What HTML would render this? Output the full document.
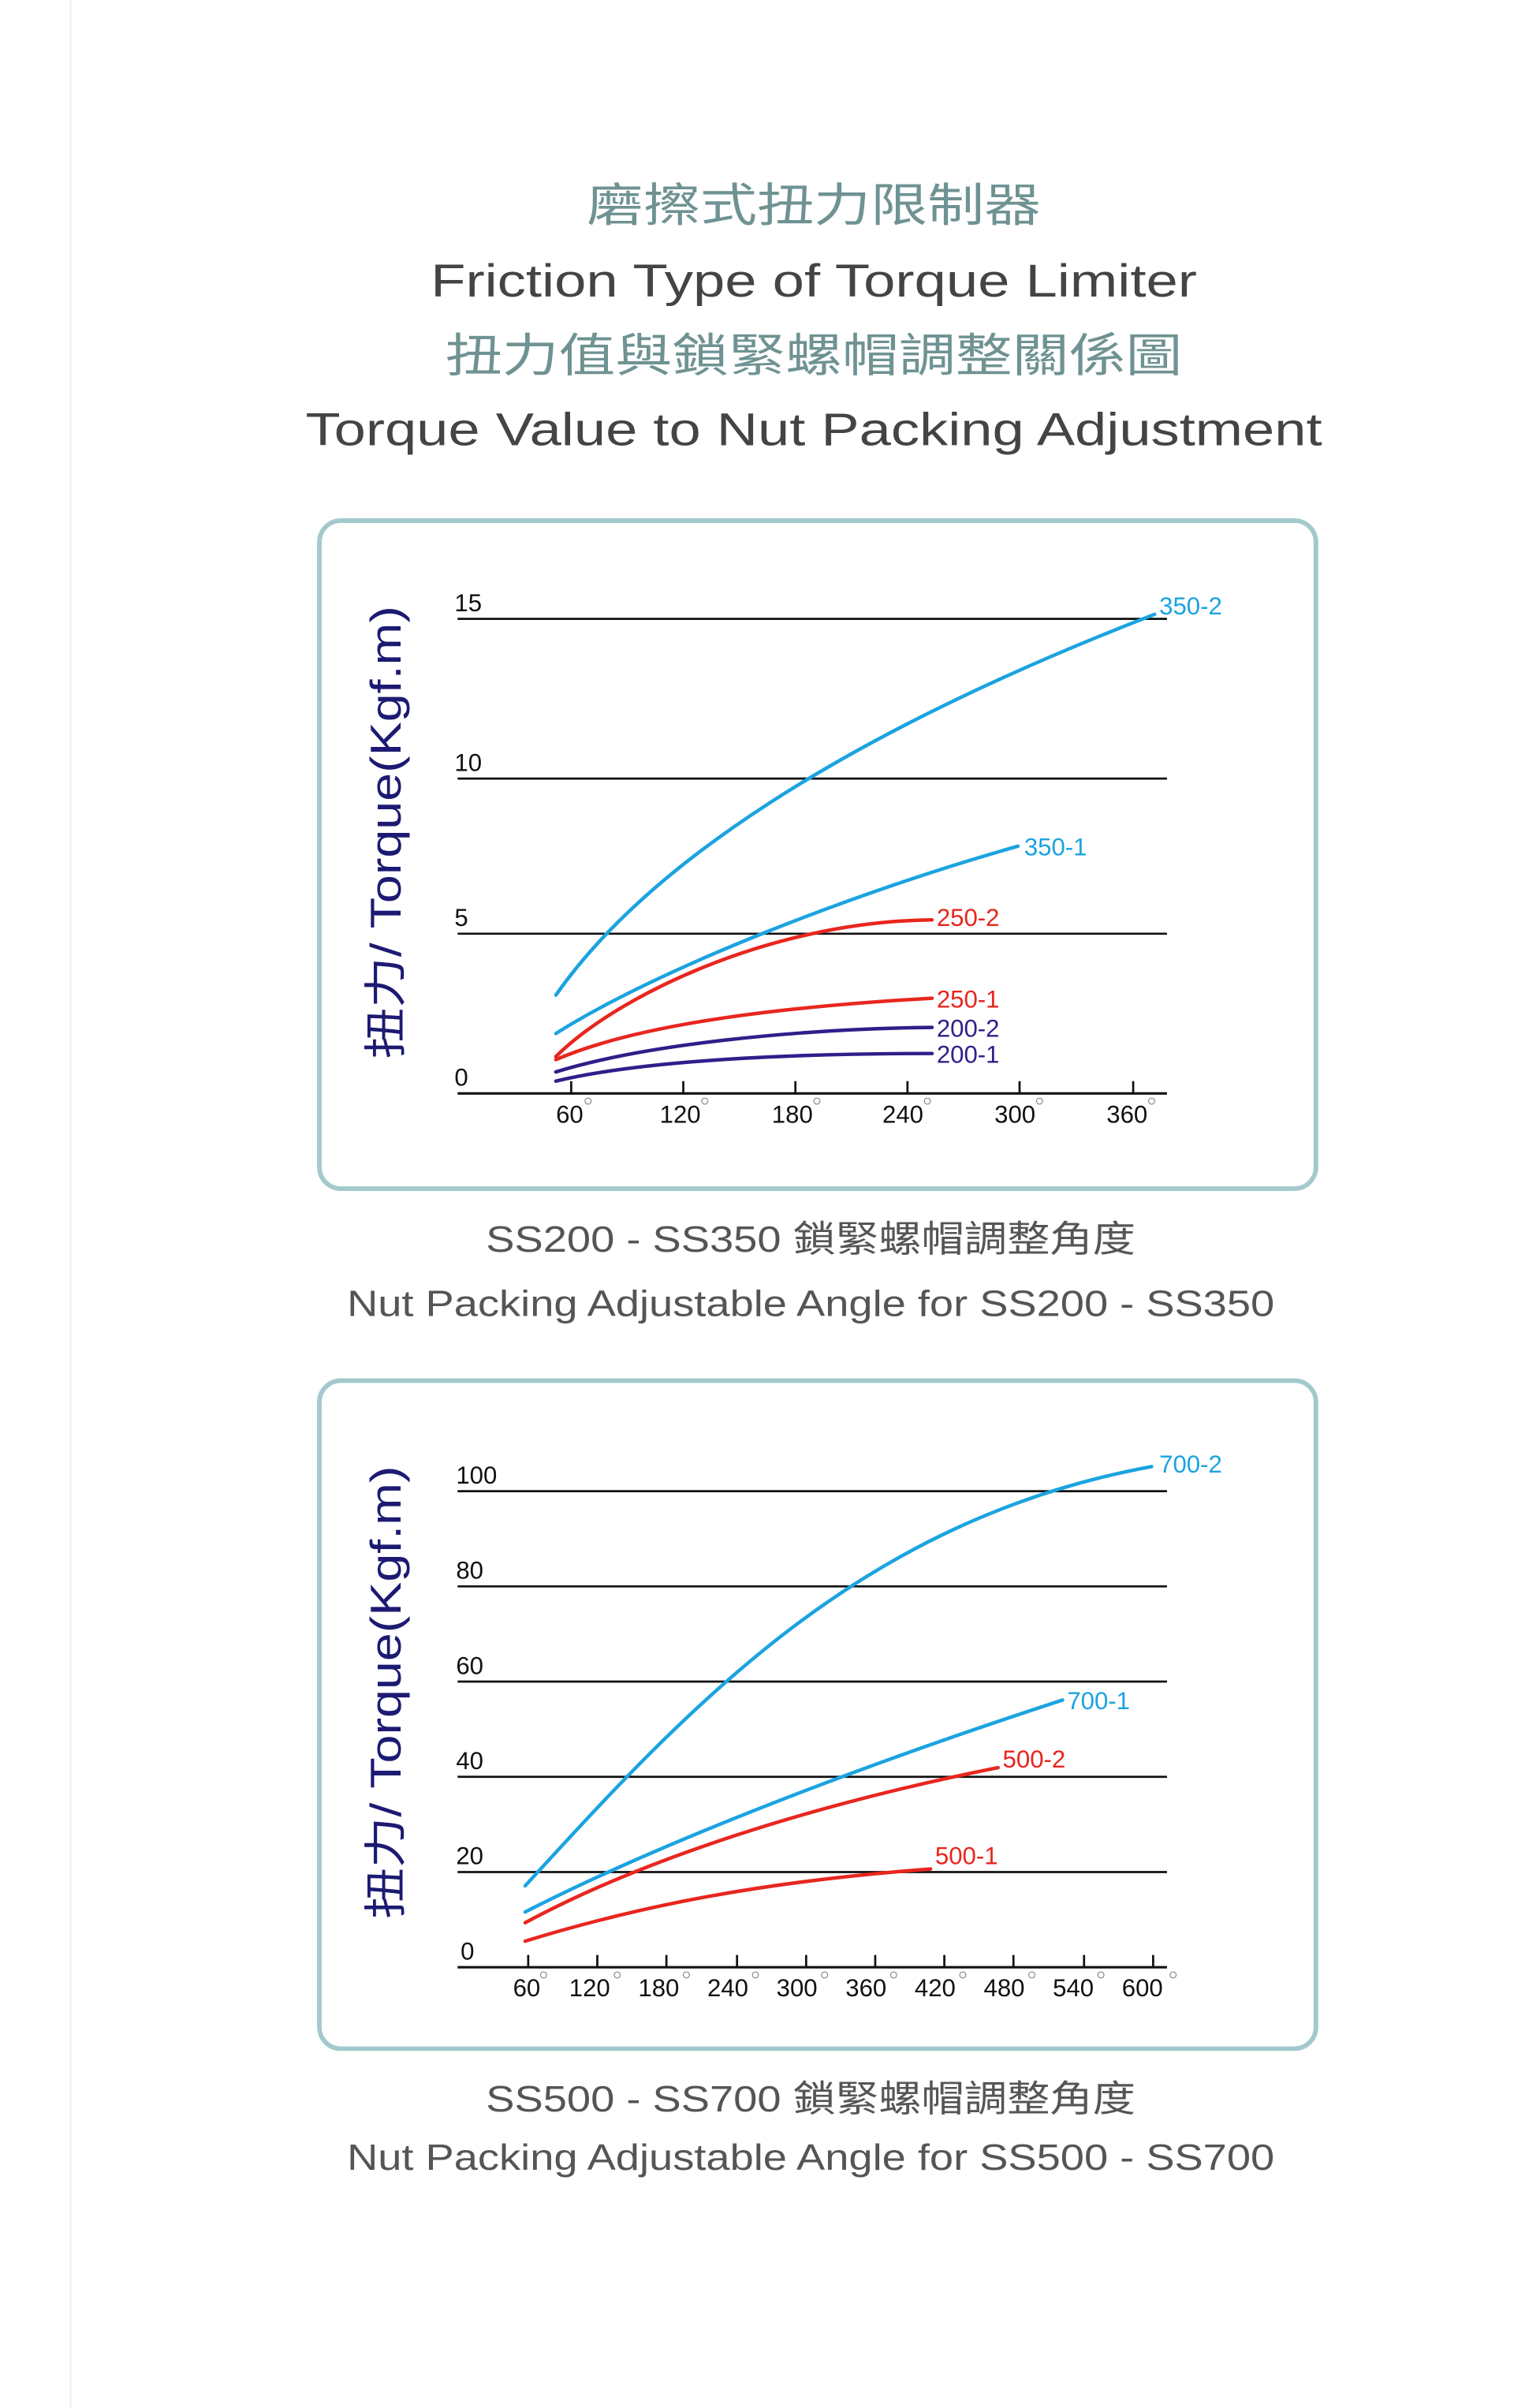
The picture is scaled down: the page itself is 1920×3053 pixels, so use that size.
<!DOCTYPE html>
<html><head><meta charset="utf-8"><style>
html,body{margin:0;padding:0;background:#fff;}
svg{display:block;}
text{font-family:"Liberation Sans","Noto Sans CJK TC",sans-serif;}
</style></head><body>
<svg width="1920" height="3053" viewBox="0 0 986 1568" preserveAspectRatio="none" xmlns="http://www.w3.org/2000/svg">
<rect width="986" height="1568" fill="#fff"/>
<line x1="46" y1="0" x2="46" y2="1568" stroke="#e6eeee" stroke-width="1"/>

<g text-anchor="middle">
<text x="530" y="144" font-size="30" fill="#6f9292" textLength="296" lengthAdjust="spacingAndGlyphs">磨擦式扭力限制器</text>
<text x="530" y="193" font-size="30" fill="#444" textLength="499" lengthAdjust="spacingAndGlyphs">Friction Type of Torque Limiter</text>
<text x="530" y="242" font-size="30" fill="#6f9292" textLength="480" lengthAdjust="spacingAndGlyphs">扭力值與鎖緊螺帽調整關係圖</text>
<text x="530" y="290" font-size="30" fill="#444" textLength="662" lengthAdjust="spacingAndGlyphs">Torque Value to Nut Packing Adjustment</text>
</g>

<!-- Chart 1 -->
<rect x="208" y="339" width="649" height="435" rx="14" fill="none" stroke="#a3c9cc" stroke-width="3"/>
<g stroke="#111" stroke-width="1.4">
<line x1="298" y1="403" x2="760" y2="403"/>
<line x1="298" y1="507" x2="760" y2="507"/>
<line x1="298" y1="608" x2="760" y2="608"/>
<line x1="298" y1="712" x2="760" y2="712" stroke-width="1.6"/>
<line x1="372" y1="712" x2="372" y2="704"/><line x1="445" y1="712" x2="445" y2="704"/><line x1="518" y1="712" x2="518" y2="704"/><line x1="591" y1="712" x2="591" y2="704"/><line x1="664" y1="712" x2="664" y2="704"/><line x1="738" y1="712" x2="738" y2="704"/>
</g>
<g font-size="16" fill="#111">
<text x="296" y="398">15</text><text x="296" y="502">10</text><text x="296" y="603">5</text><text x="296" y="707">0</text>
</g>
<g font-size="16" fill="#111" text-anchor="middle">
<text x="371" y="731">60</text><text x="443" y="731">120</text><text x="516" y="731">180</text><text x="588" y="731">240</text><text x="661" y="731">300</text><text x="734" y="731">360</text>
</g>
<g fill="none" stroke="#888" stroke-width="0.6">
<circle cx="383" cy="717" r="2"/><circle cx="459" cy="717" r="2"/><circle cx="532" cy="717" r="2"/><circle cx="604" cy="717" r="2"/><circle cx="677" cy="717" r="2"/><circle cx="750" cy="717" r="2"/>
</g>
<text transform="translate(261,542) rotate(-90)" text-anchor="middle" font-size="28" fill="#1c1a72" textLength="295" lengthAdjust="spacingAndGlyphs">扭力/ Torque(Kgf.m)</text>
<g fill="none" stroke-width="2.3" stroke-linecap="round">
<path d="M362,648 C420,565 545,480 752,400" stroke="#1ba3e0"/>
<path d="M362,673 C430,630 560,580 663,551" stroke="#1ba3e0"/>
<path d="M362,688 C400,650 500,600 607,599" stroke="#e8261e"/>
<path d="M362,690 C420,665 520,655 607,650" stroke="#e8261e"/>
<path d="M362,698 C420,680 520,670 607,669" stroke="#2e1f8a"/>
<path d="M362,704 C420,690 520,686 607,686" stroke="#2e1f8a"/>
</g>
<g font-size="16">
<text x="755" y="400" fill="#1ba3e0">350-2</text>
<text x="667" y="557" fill="#1ba3e0">350-1</text>
<text x="610" y="603" fill="#e8261e">250-2</text>
<text x="610" y="656" fill="#e8261e">250-1</text>
<text x="610" y="675" fill="#2e1f8a">200-2</text>
<text x="610" y="692" fill="#2e1f8a">200-1</text>
</g>
<g text-anchor="middle" fill="#555" font-size="24">
<text x="528" y="815" textLength="423" lengthAdjust="spacingAndGlyphs">SS200 - SS350 鎖緊螺帽調整角度</text>
<text x="528" y="857" textLength="604" lengthAdjust="spacingAndGlyphs">Nut Packing Adjustable Angle for SS200 - SS350</text>
</g>

<!-- Chart 2 -->
<rect x="208" y="899" width="649" height="435" rx="14" fill="none" stroke="#a3c9cc" stroke-width="3"/>
<g stroke="#111" stroke-width="1.4">
<line x1="298" y1="971" x2="760" y2="971"/>
<line x1="298" y1="1033" x2="760" y2="1033"/>
<line x1="298" y1="1095" x2="760" y2="1095"/>
<line x1="298" y1="1157" x2="760" y2="1157"/>
<line x1="298" y1="1219" x2="760" y2="1219"/>
<line x1="298" y1="1281" x2="760" y2="1281" stroke-width="1.6"/>
<g>
<line x1="344" y1="1281" x2="344" y2="1273"/><line x1="389" y1="1281" x2="389" y2="1273"/><line x1="434" y1="1281" x2="434" y2="1273"/><line x1="480" y1="1281" x2="480" y2="1273"/><line x1="525" y1="1281" x2="525" y2="1273"/><line x1="570" y1="1281" x2="570" y2="1273"/><line x1="615" y1="1281" x2="615" y2="1273"/><line x1="660" y1="1281" x2="660" y2="1273"/><line x1="706" y1="1281" x2="706" y2="1273"/><line x1="751" y1="1281" x2="751" y2="1273"/>
</g>
</g>
<g font-size="16" fill="#111">
<text x="297" y="966">100</text><text x="297" y="1028">80</text><text x="297" y="1090">60</text><text x="297" y="1152">40</text><text x="297" y="1214">20</text><text x="300" y="1276">0</text>
</g>
<g font-size="16" fill="#111" text-anchor="middle">
<text x="343" y="1300">60</text><text x="384" y="1300">120</text><text x="429" y="1300">180</text><text x="474" y="1300">240</text><text x="519" y="1300">300</text><text x="564" y="1300">360</text><text x="609" y="1300">420</text><text x="654" y="1300">480</text><text x="699" y="1300">540</text><text x="744" y="1300">600</text>
</g>
<g fill="none" stroke="#888" stroke-width="0.6">
<circle cx="354" cy="1286" r="2"/><circle cx="402" cy="1286" r="2"/><circle cx="447" cy="1286" r="2"/><circle cx="492" cy="1286" r="2"/><circle cx="537" cy="1286" r="2"/><circle cx="582" cy="1286" r="2"/><circle cx="627" cy="1286" r="2"/><circle cx="672" cy="1286" r="2"/><circle cx="717" cy="1286" r="2"/><circle cx="764" cy="1286" r="2"/>
</g>
<text transform="translate(261,1102) rotate(-90)" text-anchor="middle" font-size="28" fill="#1c1a72" textLength="295" lengthAdjust="spacingAndGlyphs">扭力/ Torque(Kgf.m)</text>
<g fill="none" stroke-width="2.3" stroke-linecap="round">
<path d="M342,1228 C450,1110 560,990 750,955" stroke="#1ba3e0"/>
<path d="M342,1245 C430,1200 560,1150 692,1107" stroke="#1ba3e0"/>
<path d="M342,1252 C420,1210 530,1175 650,1151" stroke="#e8261e"/>
<path d="M342,1264 C420,1240 500,1225 606,1217" stroke="#e8261e"/>
</g>
<g font-size="16">
<text x="755" y="959" fill="#1ba3e0">700-2</text>
<text x="695" y="1113" fill="#1ba3e0">700-1</text>
<text x="653" y="1151" fill="#e8261e">500-2</text>
<text x="609" y="1214" fill="#e8261e">500-1</text>
</g>
<g text-anchor="middle" fill="#555" font-size="24">
<text x="528" y="1375" textLength="423" lengthAdjust="spacingAndGlyphs">SS500 - SS700 鎖緊螺帽調整角度</text>
<text x="528" y="1413" textLength="604" lengthAdjust="spacingAndGlyphs">Nut Packing Adjustable Angle for SS500 - SS700</text>
</g>
</svg>
</body></html>
